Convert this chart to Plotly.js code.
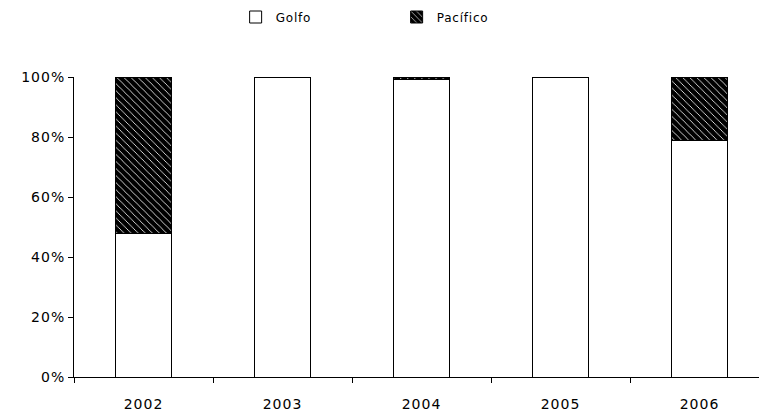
<!DOCTYPE html>
<html>
<head>
<meta charset="utf-8">
<script src="https://cdn.plot.ly/plotly-3.0.1.min.js"></script>
<style>
  html, body { margin: 0; padding: 0; background: #fff; }
  #graph { width: 759px; height: 419px; }
  /* the reference uses a wide, loosely spaced bitmap font */
  .xtick text, .ytick text { letter-spacing: 1px; }
  .legendtext { letter-spacing: 0.8px; }
</style>
</head>
<body>
<div id="graph"></div>
<script>
// values (percent of the year total)
var years = ['2002', '2003', '2004', '2005', '2006'];
var golfo = [48, 100, 99.3, 100, 79];
var pacifico = [52, 0, 0.7, 0, 21];

var tickFont = {family: 'DejaVu Sans, Arial, sans-serif', size: 14, color: '#000'};

var traceGolfo = {
    x: years,
    y: golfo,
    name: 'Golfo',
    type: 'bar',
    marker: {
        color: '#ffffff',
        line: {color: '#000', width: 1}
    }
};

var tracePacifico = {
    x: years,
    y: pacifico,
    name: 'Pacífico',
    type: 'bar',
    marker: {
        color: '#000',
        line: {color: '#000', width: 1},
        pattern: {
            shape: '\\',
            fgcolor: '#ffffff',
            bgcolor: '#000',
            size: 5,
            solidity: 0.16
        }
    }
};

var layout = {
    width: 759,
    height: 419,
    margin: {l: 74, r: 0, t: 77, b: 42},
    paper_bgcolor: '#fff',
    plot_bgcolor: '#fff',
    font: tickFont,
    barmode: 'stack',
    bargap: 0.6,
    showlegend: true,
    legend: {
        orientation: 'h',
        traceorder: 'normal',
        x: 0.471,
        xanchor: 'center',
        y: 1.2,
        yanchor: 'middle',
        entrywidth: 116,
        entrywidthmode: 'pixels',
        itemwidth: 30,
        font: {family: 'DejaVu Sans, Arial, sans-serif', size: 12, color: '#000'}
    },
    xaxis: {
        type: 'category',
        range: [-0.5, 4.428],
        autorange: false,
        showline: true,
        linecolor: '#000',
        linewidth: 1,
        ticks: 'outside',
        tickson: 'boundaries',
        ticklen: 5,
        tickcolor: '#000',
        ticklabelstandoff: 14,
        tickfont: tickFont,
        showgrid: false,
        zeroline: false,
        fixedrange: true
    },
    yaxis: {
        range: [0, 100],
        autorange: false,
        dtick: 20,
        ticksuffix: '%',
        showline: true,
        linecolor: '#000',
        linewidth: 1,
        ticks: 'outside',
        ticklen: 5,
        tickcolor: '#000',
        tickfont: tickFont,
        showgrid: false,
        zeroline: false,
        fixedrange: true
    }
};

var graph = document.getElementById('graph');
Plotly.newPlot(graph, [traceGolfo, tracePacifico], layout, {staticPlot: true});
</script>
</body>
</html>
